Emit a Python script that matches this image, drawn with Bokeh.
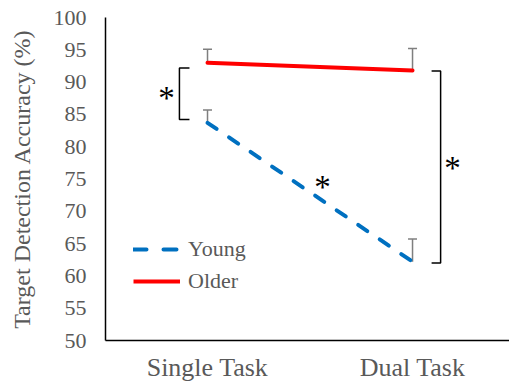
from bokeh.plotting import figure
from bokeh.models import Range1d, FixedTicker, Whisker, TeeHead, ColumnDataSource, Legend, LegendItem
from bokeh.core.properties import value
from bokeh.embed import file_html
from bokeh.resources import INLINE

# ---- data ----
categories = ["Single Task", "Dual Task"]
young = [83.7, 62.2]
older = [93.0, 91.8]
young_err = [2.0, 3.5]
older_err = [2.1, 3.4]
y_ticks = [50, 55, 60, 65, 70, 75, 80, 85, 90, 95, 100]
# significance brackets: (x of spine, x of tick end, top, bottom)
brackets = [(0.863, 0.912, 92.2, 84.2), (2.137, 2.093, 91.7, 62.0)]
stars_x = [0.80, 1.561, 2.195]
stars_y = [88.3, 74.6, 77.4]

xpos = [i + 1 for i in range(len(categories))]

FONT = "Liberation Serif"
GREY = "#595959"

p = figure(width=509, height=384, output_backend="svg", toolbar_location=None,
           x_range=Range1d(0.5024, 2.473), y_range=Range1d(50, 100),
           min_border_left=105, min_border_right=0, min_border_top=17, min_border_bottom=40)
p.outline_line_color = None
p.grid.visible = False
p.background_fill_color = "white"
p.border_fill_color = "white"

# axes
p.yaxis.ticker = FixedTicker(ticks=y_ticks)
p.xaxis.ticker = FixedTicker(ticks=xpos)
p.xaxis.major_label_overrides = {x: c for x, c in zip(xpos, categories)}
for ax in (p.xaxis[0], p.yaxis[0]):
    ax.axis_line_color = "#000000"
    ax.axis_line_width = 1.5
    ax.major_tick_line_color = None
    ax.minor_tick_line_color = None
    ax.major_tick_out = 0
    ax.major_tick_in = 0
    ax.major_label_text_font = FONT
    ax.major_label_text_color = GREY
p.yaxis.major_label_text_font_size = "22px"
p.yaxis.major_label_standoff = 19
p.xaxis.major_label_text_font_size = "26px"
p.xaxis.major_label_standoff = 12
p.yaxis.axis_label = "Target Detection Accuracy (%)"
p.yaxis.axis_label_text_font = FONT
p.yaxis.axis_label_text_font_size = "24px"
p.yaxis.axis_label_text_font_style = "normal"
p.yaxis.axis_label_text_color = GREY
p.yaxis.axis_label_standoff = 16

# error bars (upper only)
err_src = ColumnDataSource(dict(
    x=xpos + xpos,
    base=young + older,
    upper=[v + e for v, e in zip(young, young_err)] + [v + e for v, e in zip(older, older_err)],
))
wh = Whisker(source=err_src, base="x", lower="base", upper="upper", dimension="height",
             line_color="#7f7f7f", line_width=1.5, lower_head=None,
             upper_head=TeeHead(size=9, line_color="#7f7f7f", line_width=1.5))
p.add_layout(wh)

# lines
p.line(xpos, older, line_color="#FF0000", line_width=4, line_cap="round")
p.line(xpos, young, line_color="#0070C0", line_width=4, line_dash="11 15", line_cap="round")

# legend-only renderers
ly = p.line(xpos, young, line_color="#0070C0", line_width=4, line_dash="13 17", line_cap="round", visible=False)
lo = p.line(xpos, older, line_color="#FF0000", line_width=4, visible=False)
legend = Legend(items=[LegendItem(label="Young", renderers=[ly]), LegendItem(label="Older", renderers=[lo])],
                location=(28, 44), orientation="vertical", glyph_width=47, glyph_height=30,
                label_height=30, spacing=2, label_standoff=8, padding=0, margin=0,
                border_line_color=None, background_fill_alpha=0,
                label_text_font=FONT, label_text_font_size="22px", label_text_color=GREY)
p.add_layout(legend, "center")

# brackets
for (xs, xt, top, bot) in brackets:
    p.line([xt, xs, xs, xt], [top, top, bot, bot], line_color="#000000", line_width=1.5)

# asterisks
p.text(stars_x, stars_y, text=["*"] * len(stars_x), text_font=value(FONT), text_font_size="33px",
       text_align="center", text_baseline="middle", text_color="#000000", y_offset=5)

open("out.html", "w").write(file_html(p, INLINE))
